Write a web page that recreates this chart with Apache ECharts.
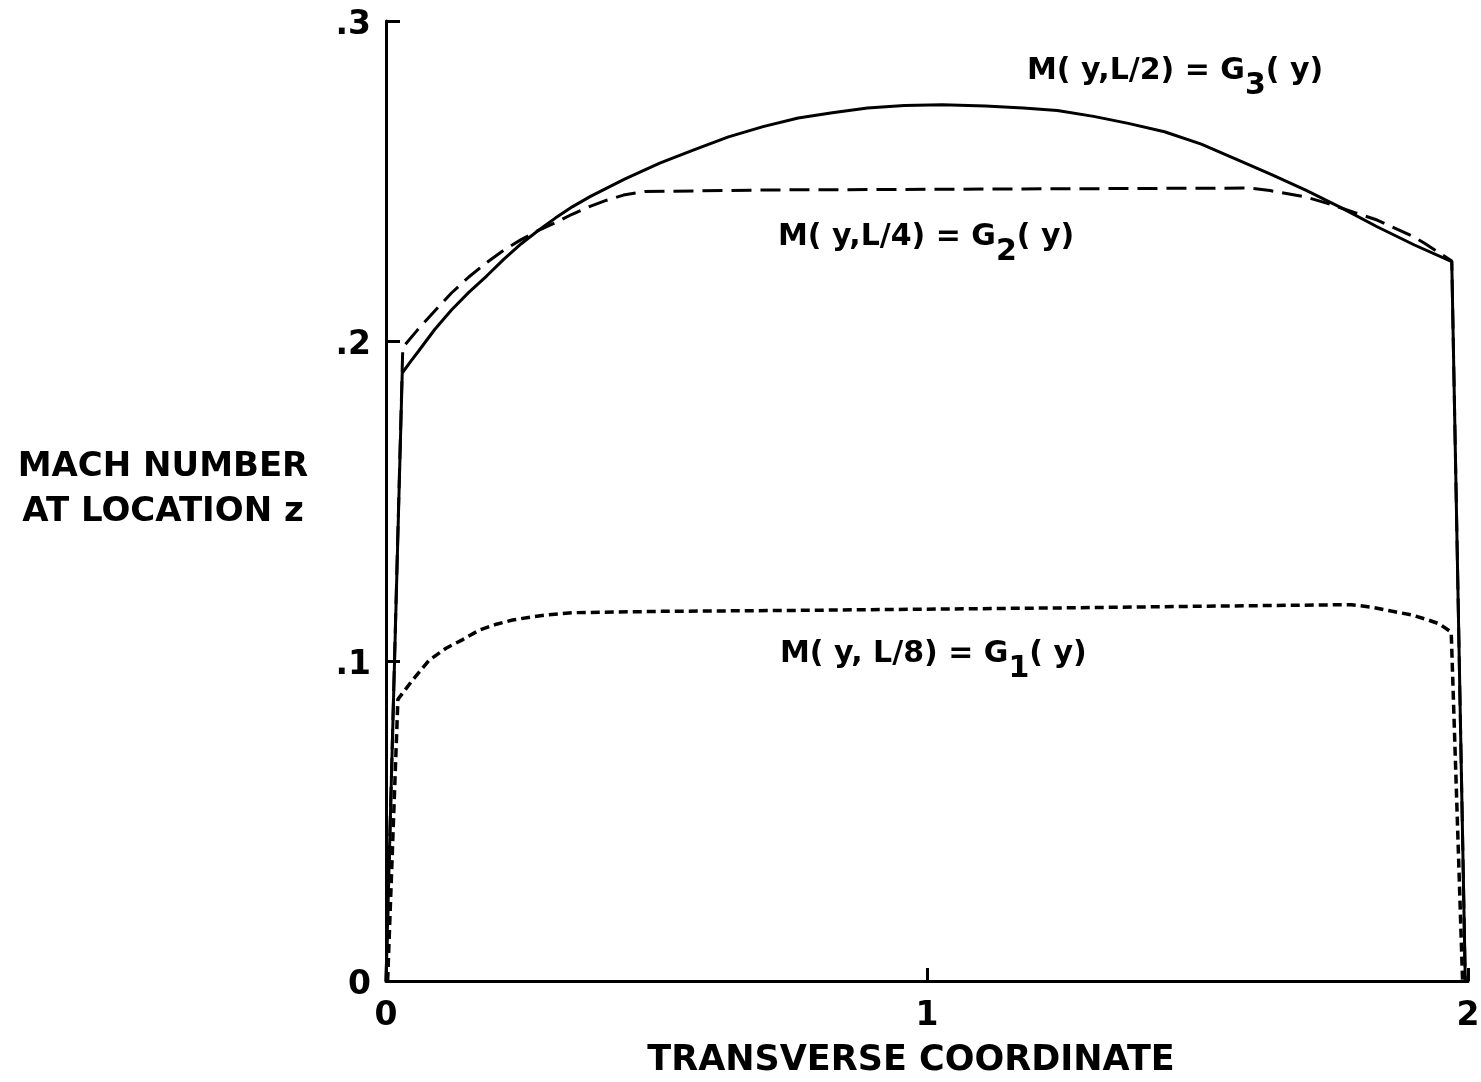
<!DOCTYPE html>
<html>
<head>
<meta charset="utf-8">
<script src="https://cdn.jsdelivr.net/npm/echarts@6/dist/echarts.min.js"></script>
<style>
  html, body { margin: 0; padding: 0; background: #fff; }
  #chart { width: 1481px; height: 1082px; }
</style>
</head>
<body>
<div id="chart"></div>
<script>
// ---- data ----
var g3Points = [
  [0.0, 0.0], [0.030, 0.190], [0.045, 0.1935], [0.060, 0.1968], [0.090, 0.2036], [0.121, 0.2097],
  [0.153, 0.2152], [0.186, 0.2203], [0.218, 0.2256], [0.250, 0.2304], [0.282, 0.2346],
  [0.313, 0.2384], [0.345, 0.2420], [0.378, 0.2452], [0.441, 0.2506], [0.506, 0.2556],
  [0.569, 0.2597], [0.633, 0.2638], [0.697, 0.267], [0.762, 0.2697], [0.825, 0.2713],
  [0.890, 0.2728], [0.958, 0.2736], [1.028, 0.2738], [1.108, 0.2734], [1.178, 0.2728],
  [1.241, 0.272], [1.308, 0.2702], [1.372, 0.268], [1.439, 0.2654], [1.507, 0.2615],
  [1.569, 0.257], [1.637, 0.252], [1.702, 0.247], [1.767, 0.2415], [1.832, 0.2357],
  [1.901, 0.230], [1.970, 0.2248], [1.995, 0.0]
];
var g2Points = [
  [0.0, 0.0], [0.031, 0.198], [0.058, 0.2034], [0.090, 0.2094], [0.121, 0.215], [0.153, 0.2200],
  [0.185, 0.2244], [0.217, 0.2283], [0.249, 0.2316], [0.280, 0.2344], [0.312, 0.2369],
  [0.344, 0.2396], [0.376, 0.242], [0.408, 0.2440], [0.439, 0.2456], [0.478, 0.2467],
  [0.70, 0.2472], [1.00, 0.2474], [1.30, 0.2476], [1.597, 0.2478], [1.634, 0.247],
  [1.700, 0.245], [1.740, 0.243], [1.832, 0.2378], [1.899, 0.2326], [1.919, 0.2306],
  [1.970, 0.2250], [1.995, 0.0]
];
var g1Points = [
  [0.003, 0.0], [0.022, 0.088], [0.049, 0.094], [0.080, 0.1003], [0.111, 0.104],
  [0.141, 0.1066], [0.173, 0.1097], [0.204, 0.1115], [0.234, 0.1128], [0.266, 0.1137],
  [0.297, 0.1144], [0.346, 0.1151], [0.50, 0.1155], [0.75, 0.1158], [1.00, 0.1162],
  [1.25, 0.1166], [1.50, 0.1171], [1.784, 0.1176], [1.823, 0.1168], [1.858, 0.1156],
  [1.896, 0.1144], [1.927, 0.1128], [1.947, 0.1116], [1.969, 0.109], [1.990, 0.0]
];
var xTickLabels = ['0', '1', '2'];
var yTickLabels = ['0', '.1', '.2', '.3'];
var seriesNames = ['M(y,L/2) = G3(y)', 'M(y,L/4) = G2(y)', 'M(y,L/8) = G1(y)'];

// ---- chart ----
var FONT = '"DejaVu Sans", sans-serif';
var chart = echarts.init(document.getElementById('chart'), null, { renderer: 'canvas' });

function annot(left, top, main, sub, tail) {
  return {
    type: 'text',
    left: left,
    top: top,
    style: {
      text: '{a|' + main + '}{s|' + sub + '}{a|' + tail + '}',
      rich: {
        a: { fontFamily: FONT, fontWeight: 'bold', fontSize: 30, fill: '#000', verticalAlign: 'top', lineHeight: 32 },
        s: { fontFamily: FONT, fontWeight: 'bold', fontSize: 30, fill: '#000', verticalAlign: 'top', lineHeight: 32, padding: [15, 0, 0, 0] }
      }
    }
  };
}

var option = {
  animation: false,
  backgroundColor: '#fff',
  grid: { left: 386, right: 13, top: 21, bottom: 101, outerBoundsMode: 'none' },
  xAxis: {
    type: 'value', min: 0, max: 2, interval: 1,
    name: 'TRANSVERSE COORDINATE',
    nameLocation: 'middle', nameGap: 62,
    nameTextStyle: { fontFamily: FONT, fontWeight: 'bold', fontSize: 35, color: '#000', padding: [0, 32, 0, 0] },
    axisLine: { show: true, lineStyle: { color: '#000', width: 3 } },
    axisTick: { show: true, inside: true, length: 13, lineStyle: { color: '#000', width: 3 } },
    axisLabel: {
      fontFamily: FONT, fontWeight: 'bold', fontSize: 33, color: '#000', margin: 19,
      formatter: function (v) { return xTickLabels[Math.round(v)]; }
    },
    splitLine: { show: false }
  },
  yAxis: {
    type: 'value', min: 0, max: 0.3, interval: 0.1,
    name: '{a|MACH NUMBER}\n{a|AT LOCATION z}\n{b| }',
    nameLocation: 'middle', nameRotate: 0, nameGap: 223,
    nameTextStyle: {
      fontFamily: FONT, fontWeight: 'bold', fontSize: 34, color: '#000', align: 'center', verticalAlign: 'middle',
      rich: {
        a: { fontFamily: FONT, fontWeight: 'bold', fontSize: 34, color: '#000', lineHeight: 45, align: 'center' },
        b: { fontSize: 10, lineHeight: 22 }
      }
    },
    axisLine: { show: true, lineStyle: { color: '#000', width: 3 } },
    axisTick: { show: true, inside: true, length: 14, lineStyle: { color: '#000', width: 3 } },
    axisLabel: {
      fontFamily: FONT, fontWeight: 'bold', fontSize: 33, color: '#000', margin: 15,
      formatter: function (v) { return '{v|' + yTickLabels[Math.round(v * 10)] + '}'; },
      rich: {
        v: { fontFamily: FONT, fontWeight: 'bold', fontSize: 33, color: '#000', padding: [8, 0, 0, 0] }
      }
    },
    splitLine: { show: false }
  },
  graphic: [
    annot(1027, 56, 'M( y,L/2) = G', '3', '( y)'),
    annot(778, 222, 'M( y,L/4) = G', '2', '( y)'),
    annot(780, 639, 'M( y, L/8) = G', '1', '( y)')
  ],
  series: [
    { name: seriesNames[0], type: 'line', data: g3Points, showSymbol: false, smooth: false,
      lineStyle: { color: '#000', width: 3, type: 'solid' } },
    { name: seriesNames[1], type: 'line', data: g2Points, showSymbol: false, smooth: false,
      lineStyle: { color: '#000', width: 3, type: [20, 9] } },
    { name: seriesNames[2], type: 'line', data: g1Points, showSymbol: false, smooth: false,
      lineStyle: { color: '#000', width: 3.5, type: [9, 5] } }
  ]
};
chart.setOption(option);
</script>
</body>
</html>
